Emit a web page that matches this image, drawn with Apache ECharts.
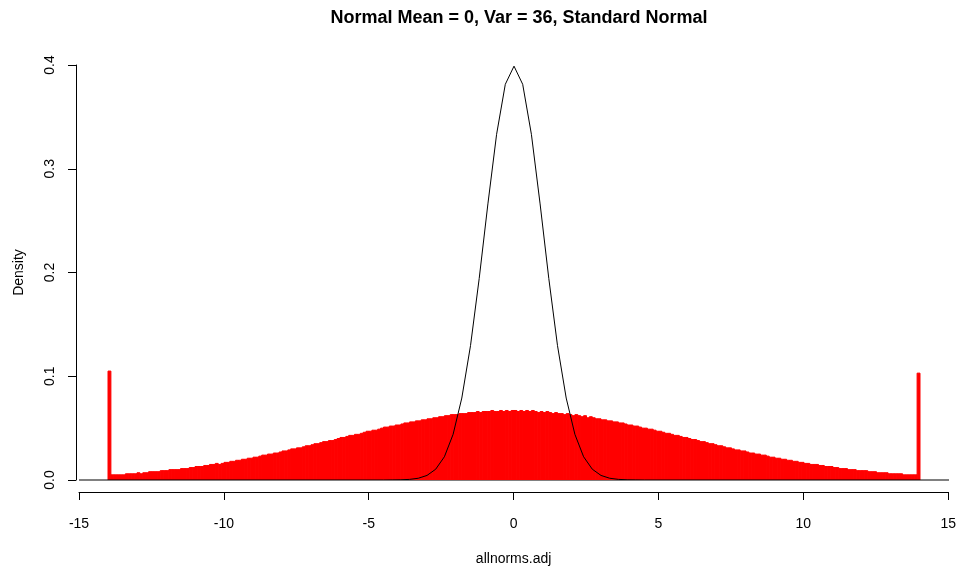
<!DOCTYPE html>
<html>
<head>
<meta charset="utf-8">
<script src="https://cdn.jsdelivr.net/npm/echarts@6/dist/echarts.min.js"></script>
<style>
  html, body { margin: 0; padding: 0; background: #fff; }
  #chart { width: 959px; height: 571px; }
</style>
</head>
<body>
<div id="chart"></div>
<script>
// histogram of allnorms.adj, bins of width 0.1 from -14 to 14
const binStart = -14;
const binWidth = 0.1;
const histLeft = [
  0.105, 0.005, 0.005, 0.005, 0.005, 0.005, 0.006, 0.006, 0.006, 0.006,
  0.007, 0.006, 0.007, 0.007, 0.008, 0.008, 0.008, 0.008, 0.009, 0.009,
  0.009, 0.010, 0.010, 0.010, 0.010, 0.011, 0.011, 0.011, 0.012, 0.012,
  0.013, 0.013, 0.013, 0.014, 0.014, 0.015, 0.015, 0.016, 0.015, 0.016,
  0.017, 0.017, 0.018, 0.018, 0.019, 0.019, 0.020, 0.020, 0.021, 0.021,
  0.022, 0.022, 0.023, 0.024, 0.024, 0.025, 0.025, 0.026, 0.026, 0.027,
  0.028, 0.028, 0.029, 0.030, 0.030, 0.031, 0.031, 0.032, 0.033, 0.033,
  0.034, 0.035, 0.035, 0.036, 0.037, 0.037, 0.038, 0.038, 0.039, 0.040,
  0.041, 0.041, 0.042, 0.043, 0.043, 0.044, 0.044, 0.045, 0.046, 0.047,
  0.047, 0.048, 0.048, 0.049, 0.050, 0.051, 0.051, 0.052, 0.052, 0.053,
  0.053, 0.054, 0.055, 0.055, 0.056, 0.056, 0.057, 0.057, 0.058, 0.058,
  0.059, 0.059, 0.060, 0.060, 0.061, 0.061, 0.062, 0.062, 0.063, 0.063,
  0.063, 0.064, 0.064, 0.064, 0.065, 0.065, 0.065, 0.066, 0.065, 0.066,
  0.066, 0.066, 0.067, 0.066, 0.066, 0.067, 0.066, 0.067, 0.066, 0.067
];
const histRight = [
  0.067, 0.066, 0.067, 0.066, 0.067, 0.066, 0.067, 0.066, 0.065, 0.066,
  0.065, 0.066, 0.065, 0.064, 0.065, 0.064, 0.064, 0.063, 0.064, 0.063,
  0.062, 0.063, 0.062, 0.061, 0.062, 0.060, 0.061, 0.060, 0.059, 0.059,
  0.058, 0.058, 0.057, 0.057, 0.056, 0.056, 0.055, 0.055, 0.054, 0.053,
  0.053, 0.052, 0.052, 0.051, 0.050, 0.050, 0.049, 0.049, 0.048, 0.047,
  0.047, 0.046, 0.045, 0.045, 0.044, 0.043, 0.043, 0.042, 0.041, 0.041,
  0.040, 0.039, 0.039, 0.038, 0.037, 0.037, 0.036, 0.035, 0.035, 0.034,
  0.033, 0.033, 0.032, 0.031, 0.031, 0.030, 0.029, 0.029, 0.028, 0.028,
  0.027, 0.026, 0.026, 0.025, 0.025, 0.024, 0.024, 0.023, 0.022, 0.022,
  0.021, 0.021, 0.020, 0.020, 0.019, 0.019, 0.018, 0.018, 0.017, 0.017,
  0.016, 0.016, 0.015, 0.015, 0.015, 0.014, 0.014, 0.013, 0.013, 0.013,
  0.012, 0.012, 0.011, 0.011, 0.011, 0.010, 0.010, 0.010, 0.009, 0.009,
  0.009, 0.009, 0.008, 0.008, 0.008, 0.007, 0.007, 0.007, 0.007, 0.006,
  0.006, 0.006, 0.006, 0.006, 0.005, 0.005, 0.005, 0.005, 0.005, 0.103
];

// standard normal curve, vertices
const curveX = [-15, -4.5, -4.2, -3.9, -3.6, -3.3, -3.0, -2.7, -2.4, -2.1, -1.8, -1.5, -1.2, -0.9, -0.6, -0.3,
  0, 0.3, 0.6, 0.9, 1.2, 1.5, 1.8, 2.1, 2.4, 2.7, 3.0, 3.3, 3.6, 3.9, 4.2, 4.5, 15];
const curveY = [0, 0.0000, 0.0001, 0.0002, 0.0006, 0.0017, 0.0044, 0.0104, 0.0224, 0.0440, 0.0790, 0.1295, 0.1942, 0.2661, 0.3332, 0.3814,
  0.3989, 0.3814, 0.3332, 0.2661, 0.1942, 0.1295, 0.0790, 0.0440, 0.0224, 0.0104, 0.0044, 0.0017, 0.0006, 0.0002, 0.0001, 0.0000, 0];

const xTicks = [-15, 15, 5];
const yTicks = [0, 0.4, 0.1];

const histValues = histLeft.concat(histRight);
const histData = histValues.map((v, i) => [binStart + i * binWidth, binStart + (i + 1) * binWidth, v]);
const curveData = curveX.map((x, i) => [x, curveY[i]]);

const font = 'Liberation Sans, Arial, Helvetica, sans-serif';
const tickStyle = { show: true, inside: false, length: 8, lineStyle: { color: '#000' } };
const chart = echarts.init(document.getElementById('chart'));

chart.setOption({
  animation: false,
  backgroundColor: '#ffffff',
  title: {
    text: 'Normal Mean = 0, Var = 36, Standard Normal',
    left: 514, top: 4, textAlign: 'center',
    textStyle: { fontFamily: font, fontSize: 18, fontWeight: 'bold', color: '#000' }
  },
  grid: [
    { left: 79, right: 10, top: 65, bottom: 91 },   // plot area (data)
    { left: 79, right: 10, top: 65, bottom: 74 }    // only carries the bottom axis
  ],
  xAxis: [
    {
      gridIndex: 0, type: 'value', min: xTicks[0], max: xTicks[1], interval: xTicks[2],
      show: false
    },
    {
      gridIndex: 1, type: 'value', min: xTicks[0], max: xTicks[1], interval: xTicks[2],
      position: 'bottom',
      name: 'allnorms.adj', nameLocation: 'middle', nameGap: 60,
      nameTextStyle: { fontFamily: font, fontSize: 14, color: '#000' },
      axisLine: { show: true, onZero: false, lineStyle: { color: '#000', width: 1 } },
      axisTick: tickStyle,
      axisLabel: { fontFamily: font, fontSize: 14, color: '#000', margin: 25 },
      splitLine: { show: false }
    }
  ],
  yAxis: [
    {
      gridIndex: 0, type: 'value', min: yTicks[0], max: yTicks[1], interval: yTicks[2],
      offset: 3,
      name: 'Density', nameLocation: 'middle', nameGap: 50,
      nameTextStyle: { fontFamily: font, fontSize: 14, color: '#000' },
      axisLine: { show: true, onZero: false, lineStyle: { color: '#000', width: 1 } },
      axisTick: tickStyle,
      axisLabel: {
        fontFamily: font, fontSize: 14, color: '#000', margin: 19, rotate: 90,
        formatter: v => v.toFixed(1)
      },
      splitLine: { show: false }
    },
    { gridIndex: 1, type: 'value', min: 0, max: 1, show: false }
  ],
  series: [
    {
      type: 'custom',
      name: 'hist',
      xAxisIndex: 0, yAxisIndex: 0,
      data: histData,
      encode: { x: [0, 1], y: 2 },
      renderItem: (params, api) => {
        const p0 = api.coord([api.value(0), api.value(2)]);
        const p1 = api.coord([api.value(1), 0]);
        return {
          type: 'rect',
          shape: { x: p0[0], y: p0[1], width: p1[0] - p0[0], height: p1[1] - p0[1] },
          style: { fill: '#ff0000', stroke: '#ff0000', lineWidth: 1 }
        };
      }
    },
    {
      type: 'line',
      name: 'dnorm',
      xAxisIndex: 0, yAxisIndex: 0,
      data: curveData,
      showSymbol: false,
      symbol: 'none',
      lineStyle: { color: '#000', width: 1 },
      markLine: {
        silent: true, symbol: 'none', label: { show: false },
        lineStyle: { color: '#808080', width: 1, type: 'solid' },
        data: [{ yAxis: 0 }]
      }
    }
  ]
});
</script>
</body>
</html>
